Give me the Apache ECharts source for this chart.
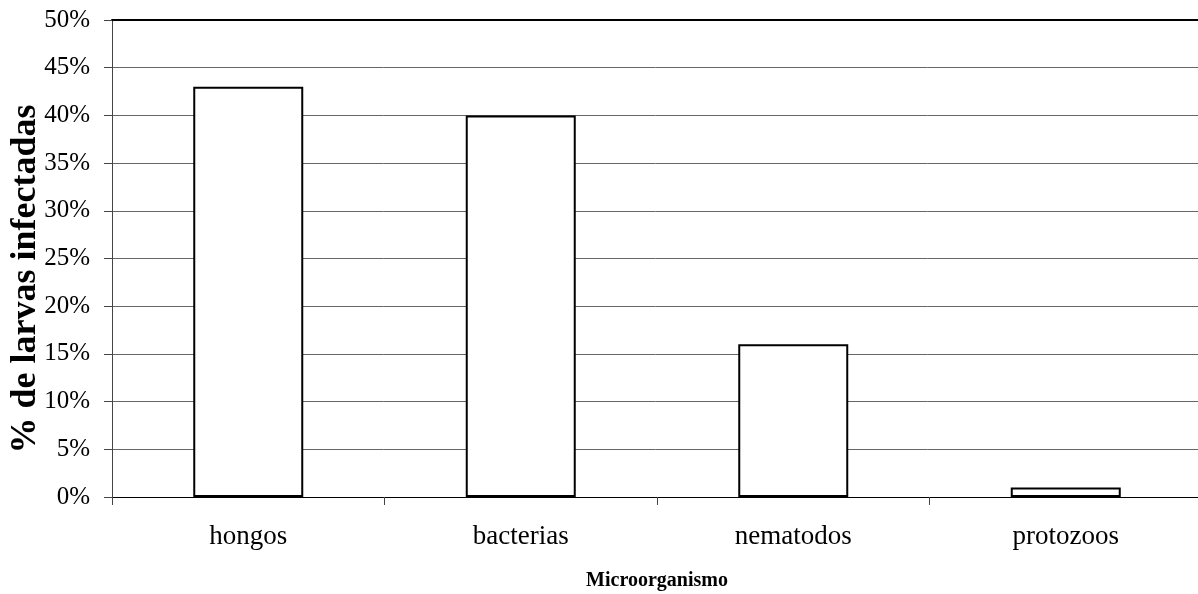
<!DOCTYPE html>
<html>
<head>
<meta charset="utf-8">
<script src="https://cdn.jsdelivr.net/npm/echarts@6/dist/echarts.min.js"></script>
<style>
  html, body { margin: 0; padding: 0; background: #fff; }
  #chart { width: 1198px; height: 594px; }
</style>
</head>
<body>
<div id="chart"></div>
<script>
  // categorias y porcentajes
  var categorias = ['hongos', 'bacterias', 'nematodos', 'protozoos'];
  var porcentajes = [43, 40, 16, 1];
  var yMax = 50;
  var yPaso = 5;

  var fuente = 'Liberation Serif';
  var chart = echarts.init(document.getElementById('chart'));
  chart.setOption({
    animation: false,
    backgroundColor: '#fff',
    grid: { left: 112, right: -4, top: 20, bottom: 97, containLabel: false, outerBoundsMode: 'none' },
    graphic: [{
      type: 'text',
      x: 8,
      y: 279,
      rotation: Math.PI / 2,
      style: {
        text: '% de larvas infectadas',
        fontFamily: fuente, fontWeight: 'bold', fontSize: 36, fill: '#000',
        align: 'center', verticalAlign: 'top'
      }
    }],
    xAxis: [{
      type: 'category',
      data: categorias,
      name: 'Microorganismo',
      nameLocation: 'middle',
      nameGap: 74,
      nameTextStyle: { fontFamily: fuente, fontWeight: 'bold', fontSize: 20, color: '#000' },
      axisLine: { show: true, lineStyle: { color: '#000', width: 1 } },
      axisTick: { show: true, length: 8, lineStyle: { color: '#444' } },
      axisLabel: { fontFamily: fuente, fontSize: 27, color: '#000', margin: 26 }
    }, {
      type: 'category',
      data: categorias,
      position: 'top',
      axisLine: { show: true, lineStyle: { color: '#000', width: 2 } },
      axisTick: { show: false },
      axisLabel: { show: false }
    }],
    yAxis: {
      type: 'value',
      min: 0,
      max: yMax,
      interval: yPaso,
      axisLine: { show: true, lineStyle: { color: '#444', width: 1 } },
      axisTick: { show: true, length: 8, lineStyle: { color: '#444' } },
      axisLabel: { fontFamily: fuente, fontSize: 25, color: '#000', margin: 22, formatter: '{value}%' },
      splitLine: { show: true, lineStyle: { color: '#666', width: 1 } }
    },
    series: [{
      type: 'bar',
      data: porcentajes,
      barWidth: 110,
      itemStyle: { color: '#fff', borderColor: '#000', borderWidth: 2 }
    }]
  });
</script>
</body>
</html>
